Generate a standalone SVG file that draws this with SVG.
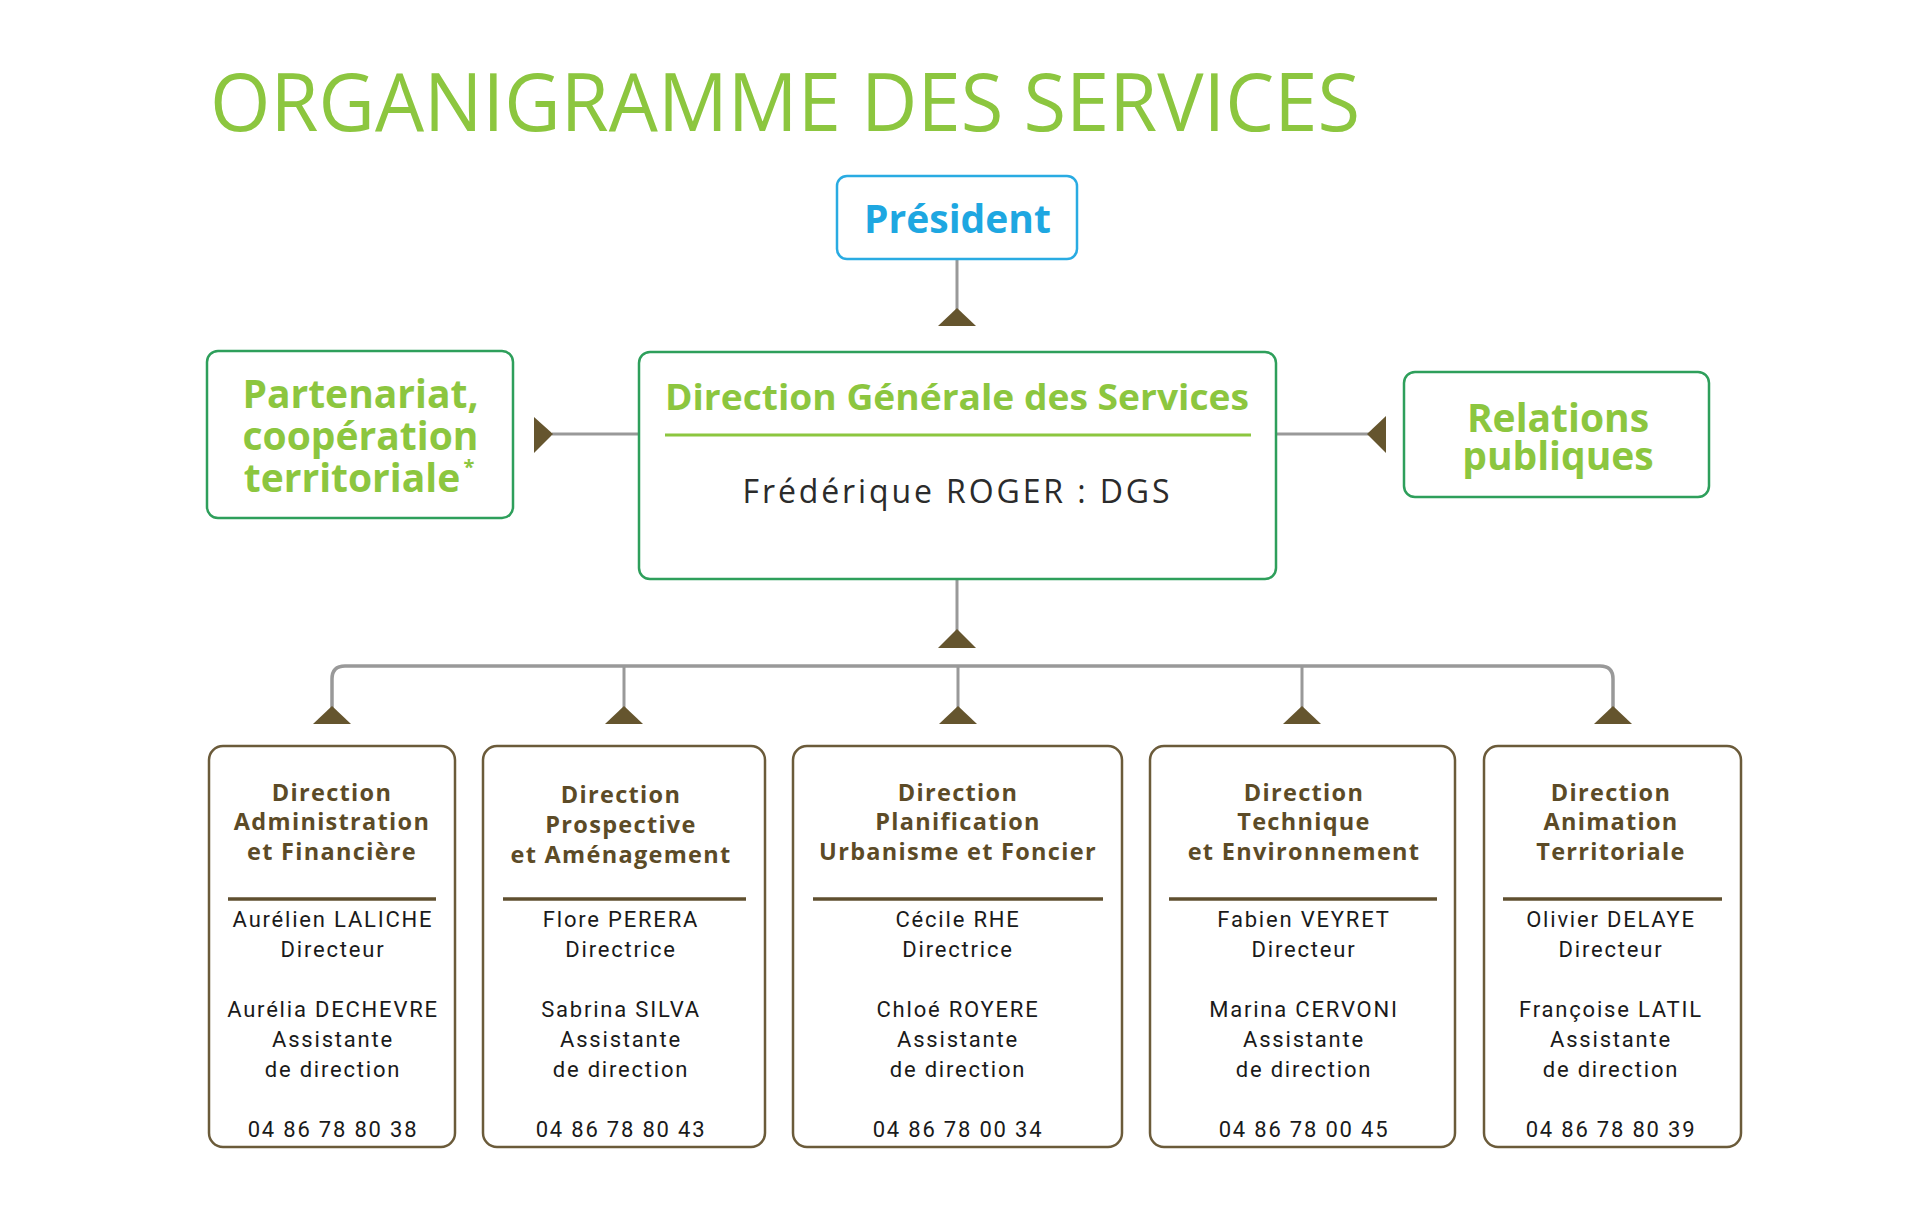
<svg xmlns="http://www.w3.org/2000/svg" width="1924" height="1230" viewBox="0 0 1924 1230">
<style>
  .bg{fill:#ffffff}
  .title{font-family:"Open Sans","Liberation Sans",sans-serif;font-size:81px;fill:#8CC63F;font-weight:400}
  .gbox{fill:#ffffff;stroke:#2E9F5B;stroke-width:2.5}
  .pbox{fill:#ffffff;stroke:#29ABE2;stroke-width:2.5}
  .pres{font-family:"Open Sans","Liberation Sans",sans-serif;font-size:39px;font-weight:700;fill:#1EA7E1;text-anchor:middle}
  .gtxt{font-family:"Open Sans","Liberation Sans",sans-serif;font-size:39px;font-weight:700;fill:#8CC63F;text-anchor:middle}
  .dgst{font-family:"Open Sans","Liberation Sans",sans-serif;font-size:36px;font-weight:700;fill:#8CC63F;text-anchor:middle}
  .dgsn{font-family:"Open Sans","Liberation Sans",sans-serif;font-size:32px;font-weight:400;fill:#2B2B2B;text-anchor:middle}
  .gsep{stroke:#8CC63F;stroke-width:3}
  .bbox{fill:#ffffff;stroke:#6B5B3A;stroke-width:2.5}
  .bsep{stroke:#5F4F2F;stroke-width:3.5}
  .btit{font-family:"Open Sans","Liberation Sans",sans-serif;font-size:23.5px;font-weight:700;fill:#5C4B27;text-anchor:middle;letter-spacing:1.3px}
  .body{font-family:Roboto,"Liberation Sans",sans-serif;font-size:22px;fill:#1A1A1A;text-anchor:middle;letter-spacing:1.8px}
  .line{stroke:#999999;stroke-width:3;fill:none}
  .tri{fill:#65552E}
</style>
<rect class="bg" x="0" y="0" width="1924" height="1230"/>
<text class="title" x="210" y="131" textLength="1150" lengthAdjust="spacingAndGlyphs">ORGANIGRAMME DES SERVICES</text>

<g id="connectors">
  <line class="line" x1="957" y1="259" x2="957" y2="310"/>
  <polygon class="tri" points="957,308 976,326 938,326"/>
  <line class="line" x1="640" y1="434" x2="552" y2="434"/>
  <polygon class="tri" points="553,434 534,417 534,453"/>
  <line class="line" x1="1276" y1="434" x2="1369" y2="434"/>
  <polygon class="tri" points="1367,434 1386,416 1386,453"/>
  <line class="line" x1="957" y1="579" x2="957" y2="631"/>
  <polygon class="tri" points="957,629 976,648 938,648"/>
  <path class="line" style="stroke-width:3.5" d="M332,708 V679 Q332,666 345,666 H1600 Q1613,666 1613,679 V708"/>
  <line class="line" x1="624" y1="666" x2="624" y2="708"/>
  <line class="line" x1="958" y1="666" x2="958" y2="708"/>
  <line class="line" x1="1302" y1="666" x2="1302" y2="708"/>
  <polygon class="tri" points="332,706 351,724 313,724"/>
  <polygon class="tri" points="624,706 643,724 605,724"/>
  <polygon class="tri" points="958,706 977,724 939,724"/>
  <polygon class="tri" points="1302,706 1321,724 1283,724"/>
  <polygon class="tri" points="1613,706 1632,724 1594,724"/>
</g>

<g id="president">
  <rect class="pbox" x="837" y="176" width="240" height="83" rx="10"/>
  <text class="pres" x="957.5" y="233">Président</text>
</g>

<g id="dgs">
  <rect class="gbox" x="639" y="352" width="637" height="227" rx="11"/>
  <text class="dgst" x="957" y="410" textLength="584" lengthAdjust="spacingAndGlyphs">Direction Générale des Services</text>
  <line class="gsep" x1="665" y1="435" x2="1251" y2="435"/>
  <text class="dgsn" x="956" y="503" textLength="427">Frédérique ROGER : DGS</text>
</g>

<g id="partenariat">
  <rect class="gbox" x="207" y="351" width="306" height="167" rx="11"/>
  <text class="gtxt"><tspan x="360.5" y="408">Partenariat,</tspan><tspan x="360.5" y="450">coopération</tspan><tspan x="352" y="492">territoriale</tspan><tspan x="469" y="474" style="font-size:20px">*</tspan></text>
</g>

<g id="relations">
  <rect class="gbox" x="1404" y="372" width="305" height="125" rx="11"/>
  <text class="gtxt"><tspan x="1558" y="432">Relations</tspan><tspan x="1558" y="470">publiques</tspan></text>
</g>

<g id="dir-admin">
  <rect class="bbox" x="209" y="746" width="246" height="401" rx="14"/>
  <text class="btit" x="332" y="801">Direction</text>
  <text class="btit" x="332" y="830">Administration</text>
  <text class="btit" x="332" y="860">et Financière</text>
  <line class="bsep" x1="228" y1="899" x2="436" y2="899"/>
  <text class="body" x="333" y="927">Aurélien LALICHE</text>
  <text class="body" x="333" y="957">Directeur</text>
  <text class="body" x="333" y="1017">Aurélia DECHEVRE</text>
  <text class="body" x="333" y="1047">Assistante</text>
  <text class="body" x="333" y="1077">de direction</text>
  <text class="body" x="333" y="1137">04 86 78 80 38</text>
</g>

<g id="dir-prospective">
  <rect class="bbox" x="483" y="746" width="282" height="401" rx="14"/>
  <text class="btit" x="621" y="803">Direction</text>
  <text class="btit" x="621" y="833">Prospective</text>
  <text class="btit" x="621" y="863">et Aménagement</text>
  <line class="bsep" x1="503" y1="899" x2="746" y2="899"/>
  <text class="body" x="621" y="927">Flore PERERA</text>
  <text class="body" x="621" y="957">Directrice</text>
  <text class="body" x="621" y="1017">Sabrina SILVA</text>
  <text class="body" x="621" y="1047">Assistante</text>
  <text class="body" x="621" y="1077">de direction</text>
  <text class="body" x="621" y="1137">04 86 78 80 43</text>
</g>

<g id="dir-planification">
  <rect class="bbox" x="793" y="746" width="329" height="401" rx="14"/>
  <text class="btit" x="958" y="801">Direction</text>
  <text class="btit" x="958" y="830">Planification</text>
  <text class="btit" x="958" y="860">Urbanisme et Foncier</text>
  <line class="bsep" x1="813" y1="899" x2="1103" y2="899"/>
  <text class="body" x="958" y="927">Cécile RHE</text>
  <text class="body" x="958" y="957">Directrice</text>
  <text class="body" x="958" y="1017">Chloé ROYERE</text>
  <text class="body" x="958" y="1047">Assistante</text>
  <text class="body" x="958" y="1077">de direction</text>
  <text class="body" x="958" y="1137">04 86 78 00 34</text>
</g>

<g id="dir-technique">
  <rect class="bbox" x="1150" y="746" width="305" height="401" rx="14"/>
  <text class="btit" x="1304" y="801">Direction</text>
  <text class="btit" x="1304" y="830">Technique</text>
  <text class="btit" x="1304" y="860">et Environnement</text>
  <line class="bsep" x1="1169" y1="899" x2="1437" y2="899"/>
  <text class="body" x="1304" y="927">Fabien VEYRET</text>
  <text class="body" x="1304" y="957">Directeur</text>
  <text class="body" x="1304" y="1017">Marina CERVONI</text>
  <text class="body" x="1304" y="1047">Assistante</text>
  <text class="body" x="1304" y="1077">de direction</text>
  <text class="body" x="1304" y="1137">04 86 78 00 45</text>
</g>

<g id="dir-animation">
  <rect class="bbox" x="1484" y="746" width="257" height="401" rx="14"/>
  <text class="btit" x="1611" y="801">Direction</text>
  <text class="btit" x="1611" y="830">Animation</text>
  <text class="btit" x="1611" y="860">Territoriale</text>
  <line class="bsep" x1="1503" y1="899" x2="1722" y2="899"/>
  <text class="body" x="1611" y="927">Olivier DELAYE</text>
  <text class="body" x="1611" y="957">Directeur</text>
  <text class="body" x="1611" y="1017">Françoise LATIL</text>
  <text class="body" x="1611" y="1047">Assistante</text>
  <text class="body" x="1611" y="1077">de direction</text>
  <text class="body" x="1611" y="1137">04 86 78 80 39</text>
</g>
</svg>
